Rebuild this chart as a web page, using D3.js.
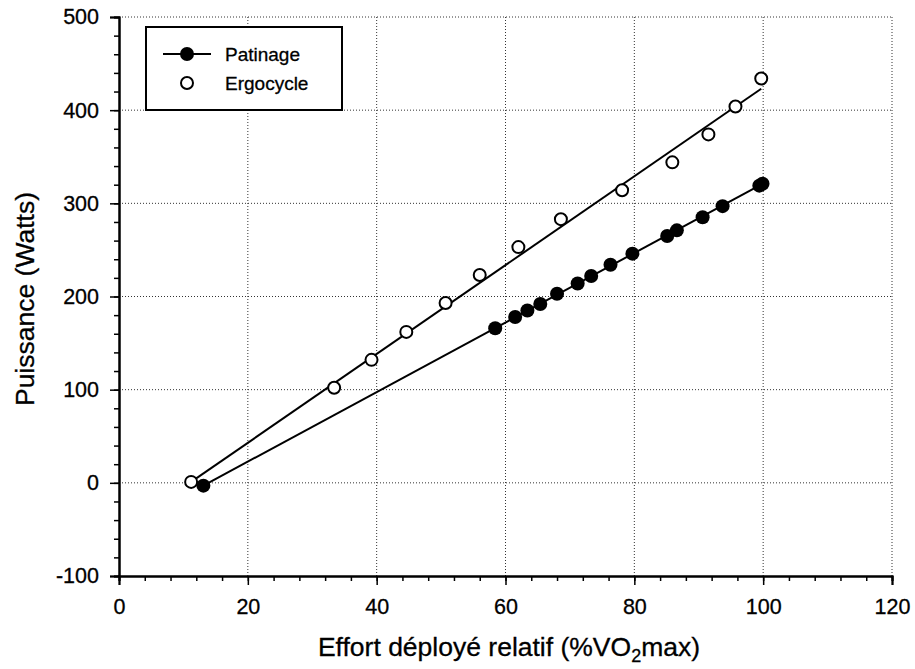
<!DOCTYPE html>
<html>
<head>
<meta charset="utf-8">
<script src="https://cdn.jsdelivr.net/npm/d3@7.9.0/dist/d3.min.js"></script>
<style>
  body { margin: 0; background: #fff; }
  svg text { font-family: "Liberation Sans", Arial, sans-serif; fill: #000; stroke: #000; stroke-width: 0.3px; }
</style>
</head>
<body>
<svg id="chart" width="915" height="669"></svg>
<script>
// data
const ergoX = [11.2, 33.4, 39.2, 44.6, 50.7, 56.0, 62.0, 68.6, 78.1, 85.9, 91.5, 95.7, 99.7];
const ergoY = [1, 102, 132, 162, 193, 223, 253, 283, 314, 344, 374, 404, 434];
const patX = [13.1, 58.4, 61.5, 63.4, 65.4, 68.0, 71.2, 73.3, 76.3, 79.7, 85.1, 86.6, 90.6, 93.7, 99.4, 99.9];
const patY = [-3, 166, 178, 185, 192, 203, 214, 222, 234, 246, 265, 271, 285, 297, 319, 321];
// regression lines (ends)
const ergoFitX = [11.2, 99.7];
const ergoFitY = [1, 423];
const patFitX = [13.1, 99.9];
const patFitY = [-3, 321];

const xTicks = [0, 20, 40, 60, 80, 100, 120];
const yTicks = [-100, 0, 100, 200, 300, 400, 500];
const seriesNames = ['Patinage', 'Ergocycle'];

const svg = d3.select('#chart');
const mLeft = 119, mRight = 892, mTop = 17, mBottom = 576;

let x = d3.scaleLinear().domain([0, 120]).range([mLeft, mRight]);
let y = d3.scaleLinear().domain([-100, 500]).range([mBottom, mTop]);

// dotted grid
let grid = svg.append('g');
grid.selectAll('.gx').data(xTicks.slice(1)).join('line')
  .attr('x1', d => x(d)).attr('x2', d => x(d))
  .attr('y1', mTop).attr('y2', mBottom)
  .attr('stroke', '#333').attr('stroke-width', 1).attr('stroke-dasharray', '1,2');
grid.selectAll('.gy').data(yTicks.slice(1)).join('line')
  .attr('x1', mLeft).attr('x2', mRight)
  .attr('y1', d => y(d)).attr('y2', d => y(d))
  .attr('stroke', '#333').attr('stroke-width', 1).attr('stroke-dasharray', '1,2');

// axes with minor ticks, hyphen for the minus sign like the original
let fmt = d => String(d);
let xMinor = d3.axisBottom(x).tickValues(d3.range(0, 121, 4)).tickSize(5).tickFormat('');
let xMajor = d3.axisBottom(x).tickValues(xTicks).tickSize(9).tickPadding(14).tickFormat(fmt);
let yMinor = d3.axisLeft(y).tickValues(d3.range(-100, 501, 20)).tickSize(5).tickFormat('');
let yMajor = d3.axisLeft(y).tickValues(yTicks).tickSize(9).tickPadding(11).tickFormat(fmt);

[xMinor, xMajor].forEach(ax => {
  svg.append('g').attr('transform', `translate(0,${mBottom})`).call(ax);
});
[yMinor, yMajor].forEach(ax => {
  svg.append('g').attr('transform', `translate(${mLeft},0)`).call(ax);
});
svg.selectAll('.domain').attr('stroke', '#000').attr('stroke-width', 2);
svg.selectAll('.tick line').attr('stroke', '#000').attr('stroke-width', 1.5);
svg.selectAll('.tick text').attr('font-size', 21.5).attr('font-family', '"Liberation Sans", Arial, sans-serif').attr('fill', '#000');

// fit lines
let line = d3.line().x(d => x(d[0])).y(d => y(d[1]));
svg.append('path').attr('d', line(d3.zip(ergoFitX, ergoFitY)))
  .attr('fill', 'none').attr('stroke', '#000').attr('stroke-width', 2);
svg.append('path').attr('d', line(d3.zip(patFitX, patFitY)))
  .attr('fill', 'none').attr('stroke', '#000').attr('stroke-width', 2);

// points
svg.append('g').selectAll('circle').data(d3.zip(ergoX, ergoY)).join('circle')
  .attr('cx', d => x(d[0])).attr('cy', d => y(d[1])).attr('r', 6)
  .attr('fill', '#fff').attr('stroke', '#000').attr('stroke-width', 2);
svg.append('g').selectAll('circle').data(d3.zip(patX, patY)).join('circle')
  .attr('cx', d => x(d[0])).attr('cy', d => y(d[1])).attr('r', 7)
  .attr('fill', '#000');

// axis titles
svg.append('text').attr('x', 509).attr('y', 656)
  .attr('text-anchor', 'middle').attr('font-size', 26.5)
  .html('Effort déployé relatif (%VO<tspan font-size="18" dy="6">2</tspan><tspan dy="-6">max)</tspan>');
svg.append('text').attr('transform', 'translate(34,299) rotate(-90)')
  .attr('text-anchor', 'middle').attr('font-size', 26.5)
  .text('Puissance (Watts)');

// legend
let lg = svg.append('g');
lg.append('rect').attr('x', 146).attr('y', 27).attr('width', 196).attr('height', 83)
  .attr('fill', '#fff').attr('stroke', '#000').attr('stroke-width', 2);
lg.append('line').attr('x1', 163).attr('x2', 211).attr('y1', 54).attr('y2', 54)
  .attr('stroke', '#000').attr('stroke-width', 2);
lg.append('circle').attr('cx', 187).attr('cy', 54).attr('r', 7).attr('fill', '#000');
lg.append('circle').attr('cx', 187).attr('cy', 83).attr('r', 6)
  .attr('fill', '#fff').attr('stroke', '#000').attr('stroke-width', 2);
lg.selectAll('text').data(seriesNames).join('text')
  .attr('x', 225).attr('y', (d, i) => 61 + i * 29)
  .attr('font-size', 19).text(d => d);
</script>
</body>
</html>
